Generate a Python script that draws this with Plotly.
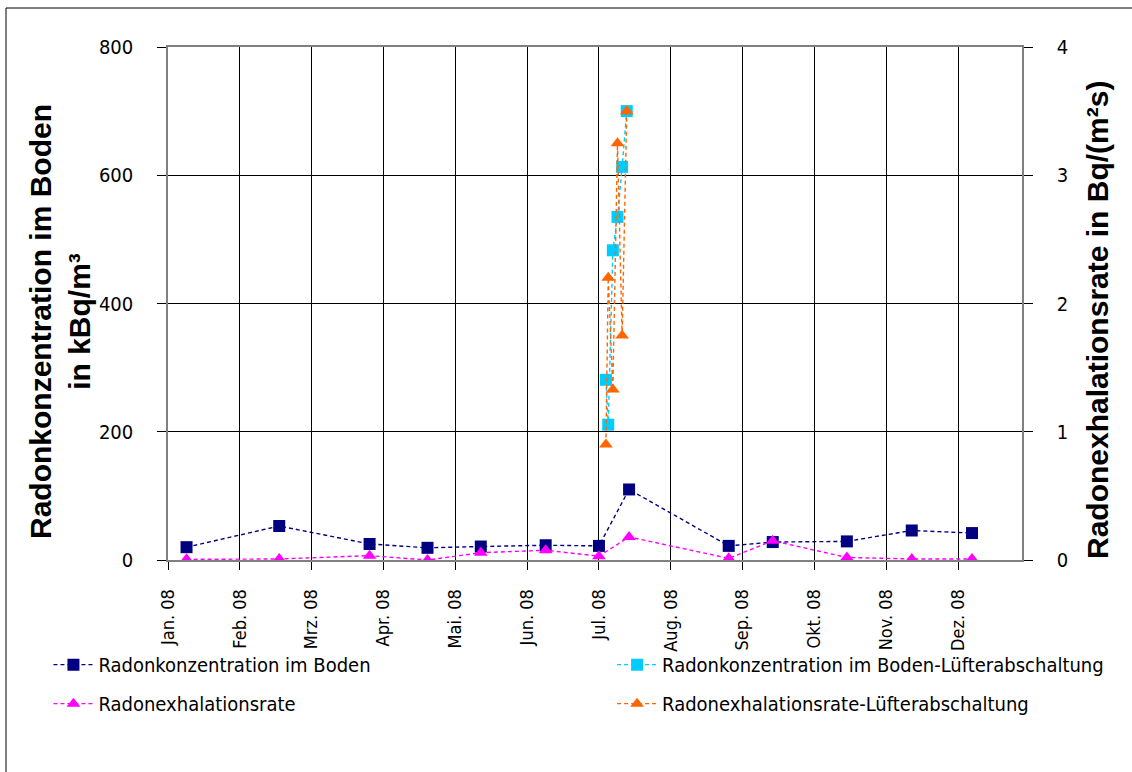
import plotly.graph_objects as go
from datetime import date, timedelta

# Month ticks: Excel-style date axis with a 31-day major unit starting 1 Jan 2008
month_labels = ["Jan. 08", "Feb. 08", "Mrz. 08", "Apr. 08", "Mai. 08", "Jun. 08",
                "Jul. 08", "Aug. 08", "Sep. 08", "Okt. 08", "Nov. 08", "Dez. 08"]
tick_dates = [(date(2008, 1, 1) + timedelta(days=31 * i)).isoformat() for i in range(12)]

# Regular monitoring campaign
dates_regular = ["2008-01-09", "2008-02-18", "2008-03-28", "2008-04-22", "2008-05-15",
                 "2008-06-12", "2008-07-05", "2008-07-18", "2008-08-30", "2008-09-18",
                 "2008-10-20", "2008-11-17", "2008-12-13"]
konz_boden = [20, 53, 25, 19, 21, 23, 22, 110, 22, 28, 29, 46, 42]          # kBq/m³
exhalation = [0.005, 0.008, 0.034, 0.0, 0.057, 0.076, 0.03, 0.18, 0.013,
              0.15, 0.02, 0.008, 0.008]                                      # Bq/(m²s)

# Fan switched off (Lüfterabschaltung), July 2008
dates_fan_off = ["2008-07-08", "2008-07-09", "2008-07-11", "2008-07-13", "2008-07-15", "2008-07-17"]
konz_fan_off = [281, 211, 483, 535, 613, 700]
exhal_fan_off = [0.9, 2.2, 1.33, 3.25, 1.75, 3.5]

NARROW = "DejaVu Sans Condensed, Liberation Sans Narrow, sans-serif"
BOLD = "Liberation Sans, Arial, sans-serif"
DASH = "4px,3px"

fig = go.Figure()

fig.add_trace(go.Scatter(
    x=dates_regular, y=konz_boden, name="Radonkonzentration im Boden",
    mode="lines+markers", yaxis="y",
    line=dict(color="#000080", width=1.4, dash=DASH),
    marker=dict(symbol="square", size=12, color="#000080"),
    legend="legend", legendgroup="a"))

fig.add_trace(go.Scatter(
    x=dates_regular, y=exhalation, name="Radonexhalationsrate",
    mode="lines+markers", yaxis="y2",
    line=dict(color="#FF00FF", width=1.4, dash=DASH),
    marker=dict(symbol="triangle-up", size=12, color="#FF00FF"),
    legend="legend", legendgroup="b"))

fig.add_trace(go.Scatter(
    x=dates_fan_off, y=konz_fan_off, name="Radonkonzentration im Boden-Lüfterabschaltung",
    mode="lines+markers", yaxis="y",
    line=dict(color="#00CCFF", width=1.4, dash=DASH),
    marker=dict(symbol="square", size=12, color="#00CCFF"),
    legend="legend2", legendgroup="c"))

fig.add_trace(go.Scatter(
    x=dates_fan_off, y=exhal_fan_off, name="Radonexhalationsrate-Lüfterabschaltung",
    mode="lines+markers", yaxis="y2",
    line=dict(color="#FF6600", width=1.4, dash=DASH),
    marker=dict(symbol="triangle-up", size=12, color="#FF6600"),
    legend="legend2", legendgroup="d"))

legend_common = dict(
    orientation="v", font=dict(family=NARROW, size=20, color="#000"),
    bgcolor="rgba(0,0,0,0)", borderwidth=0, tracegroupgap=10,
    xanchor="left", yanchor="top", itemwidth=40)

fig.update_layout(
    width=1132, height=772,
    margin=dict(l=168, r=110, t=47, b=212, autoexpand=False),
    paper_bgcolor="white", plot_bgcolor="white",
    font=dict(family=NARROW, color="#000"),
    showlegend=True,
    legend=dict(x=-0.14, y=-0.166, **legend_common),
    legend2=dict(x=0.52, y=-0.166, **legend_common),
    xaxis=dict(
        type="date",
        range=["2008-01-01", "2009-01-03 14:00"],
        tickmode="array", tickvals=tick_dates, ticktext=month_labels,
        tickangle=-90, tickfont=dict(family=NARROW, size=18, color="#000"),
        ticks="outside", ticklen=8, tickcolor="#000", tickwidth=1,
        ticklabelstandoff=12,
        showgrid=True, gridcolor="#000", gridwidth=1,
        showline=True, linecolor="#808080", linewidth=2, mirror=True,
        zeroline=False),
    yaxis=dict(
        range=[0, 800], tickvals=[0, 200, 400, 600, 800],
        tickfont=dict(family=NARROW, size=20, color="#000"),
        ticks="outside", ticklen=9, tickcolor="#000", tickwidth=1,
        ticklabelstandoff=20,
        showgrid=True, gridcolor="#000", gridwidth=1,
        showline=True, linecolor="#808080", linewidth=1.5,
        zeroline=False),
    yaxis2=dict(
        overlaying="y", side="right",
        range=[0, 4], tickvals=[0, 1, 2, 3, 4],
        tickfont=dict(family=NARROW, size=20, color="#000"),
        ticks="outside", ticklen=9, tickcolor="#000", tickwidth=1,
        ticklabelstandoff=20,
        showgrid=False,
        showline=True, linecolor="#808080", linewidth=1.5,
        zeroline=False),
)

# Axis titles
plot_l, plot_w, plot_b, plot_h = 168, 854, 560, 513


def px(xp):
    return (xp - plot_l) / plot_w


def py(yp):
    return (plot_b - yp) / plot_h


fig.add_annotation(
    text="<b>Radonkonzentration im Boden</b><br><b>in kBq/m³</b>",
    x=px(60), y=py(322), xref="paper", yref="paper",
    xanchor="center", yanchor="middle", textangle=-90, showarrow=False,
    font=dict(family=BOLD, size=30, color="#000"))

fig.add_annotation(
    text="<b>Radonexhalationsrate in Bq/(m²s)</b>",
    x=px(1097), y=py(320), xref="paper", yref="paper",
    xanchor="center", yanchor="middle", textangle=-90, showarrow=False,
    font=dict(family=BOLD, size=30, color="#000"))

# Chart frame
fig.add_shape(type="rect", xref="paper", yref="paper",
              x0=px(6), y0=py(8), x1=px(1160), y1=py(800),
              line=dict(color="#000", width=1), fillcolor="rgba(0,0,0,0)", layer="below")

fig.write_html("out.html")
